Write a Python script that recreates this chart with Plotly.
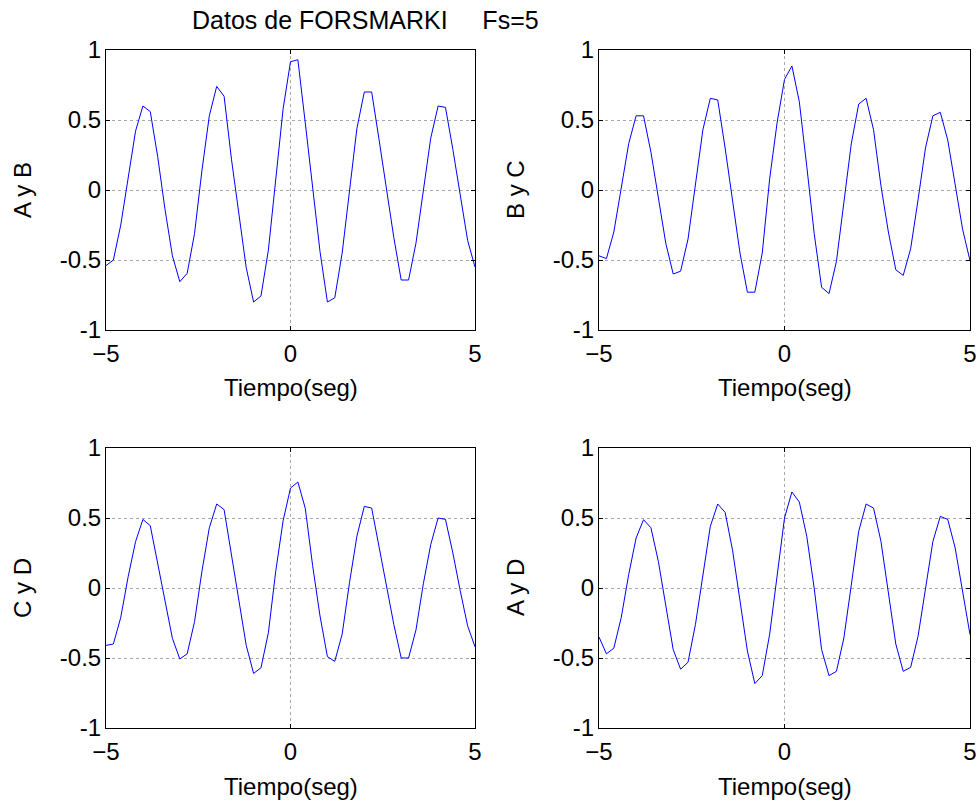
import numpy as np
import plotly.graph_objects as go

# ---- data ----
Fs = 5
tiempo = np.round(np.arange(-25, 26) / Fs, 1)  # sample times (s)

a_y_b = [-0.54, -0.50, -0.25, 0.07, 0.42, 0.60, 0.56, 0.24, -0.14, -0.47,
         -0.655, -0.595, -0.31, 0.14, 0.53, 0.74, 0.67, 0.22, -0.18, -0.555,
         -0.80, -0.757, -0.43, 0.10, 0.58, 0.917, 0.93, 0.48, 0.02, -0.44,
         -0.80, -0.77, -0.45, -0.02, 0.44, 0.70, 0.70, 0.36, 0.0, -0.34,
         -0.643, -0.643, -0.38, 0.0, 0.37, 0.60, 0.59, 0.29, -0.03, -0.36,
         -0.55]
b_y_c = [-0.47, -0.49, -0.30, 0.0, 0.33, 0.53, 0.53, 0.27, -0.06, -0.38,
         -0.60, -0.58, -0.35, 0.06, 0.43, 0.655, 0.643, 0.30, -0.07, -0.45,
         -0.73, -0.73, -0.45, 0.08, 0.48, 0.79, 0.886, 0.63, 0.17, -0.31,
         -0.695, -0.74, -0.51, -0.10, 0.33, 0.614, 0.655, 0.43, 0.03, -0.30,
         -0.57, -0.61, -0.42, -0.07, 0.30, 0.53, 0.555, 0.357, 0.03, -0.28,
         -0.505]
c_y_d = [-0.41, -0.40, -0.21, 0.08, 0.33, 0.49, 0.445, 0.18, -0.11, -0.36,
         -0.507, -0.47, -0.24, 0.12, 0.43, 0.60, 0.56, 0.23, -0.10, -0.41,
         -0.61, -0.57, -0.32, 0.12, 0.48, 0.714, 0.757, 0.57, 0.16, -0.20,
         -0.49, -0.524, -0.33, 0.04, 0.37, 0.583, 0.571, 0.29, 0.01, -0.26,
         -0.50, -0.50, -0.30, 0.03, 0.31, 0.50, 0.49, 0.25, -0.02, -0.27,
         -0.42]
a_y_d = [-0.35, -0.47, -0.43, -0.21, 0.095, 0.357, 0.488, 0.43, 0.19, -0.13,
         -0.44, -0.58, -0.53, -0.26, 0.107, 0.44, 0.60, 0.54, 0.27, -0.10,
         -0.45, -0.683, -0.626, -0.33, 0.095, 0.50, 0.686, 0.614, 0.37, 0.0,
         -0.44, -0.626, -0.595, -0.357, 0.02, 0.405, 0.60, 0.571, 0.333, -0.02,
         -0.40, -0.595, -0.567, -0.345, 0.012, 0.333, 0.512, 0.49, 0.286, -0.02,
         -0.333]

series = [a_y_b, b_y_c, c_y_d, a_y_d]
ylabels = ["A y B", "B y C", "C y D", "A y D"]
xlabel = "Tiempo(seg)"
title_text = "Datos de FORSMARKI" + "\u00a0" * 5 + "Fs=5"
xticks = [-5, 0, 5]
yticks = [-1, -0.5, 0, 0.5, 1]
yticktext = ["-1", "-0.5", "0", "0.5", "1"]

# ---- layout geometry (pixels) ----
W, H = 979, 803
boxes = [(106, 475, 50, 330), (599, 970, 50, 330),
         (106, 475, 448, 728), (599, 970, 448, 728)]
FONT = "Liberation Sans, Arial, Helvetica, sans-serif"
FS = 24

fig = go.Figure()
layout = dict(width=W, height=H, margin=dict(l=0, r=0, t=0, b=0, autoexpand=False),
              paper_bgcolor="white", plot_bgcolor="white", showlegend=False,
              font=dict(family=FONT, size=FS, color="black"))
annotations = []

for i, (ys, (x0, x1, y0, y1)) in enumerate(zip(series, boxes)):
    n = "" if i == 0 else str(i + 1)
    fig.add_trace(go.Scatter(x=tiempo, y=ys, mode="lines",
                             line=dict(color="#0000ff", width=1),
                             xaxis="x" + n, yaxis="y" + n, hoverinfo="skip"))
    common = dict(showline=True, linecolor="black", linewidth=1, mirror="ticks",
                  ticks="inside", ticklen=4, tickcolor="black", tickwidth=1,
                  showgrid=True, gridcolor="#a8a8a8", griddash="dot", gridwidth=1,
                  zeroline=False, automargin=False,
                  tickfont=dict(family=FONT, size=FS, color="black"))
    layout["xaxis" + n] = dict(domain=[x0 / W, x1 / W], range=[-5, 5],
                               tickvals=xticks, anchor="y" + n,
                               ticklabelstandoff=2, **common)
    layout["yaxis" + n] = dict(domain=[1 - y1 / H, 1 - y0 / H], range=[-1, 1],
                               tickvals=yticks, ticktext=yticktext, anchor="x" + n,
                               ticklabelstandoff=-1, **common)
    xc = (x0 + x1) / 2
    annotations.append(dict(text=xlabel, x=xc / W, y=1 - (y1 + 58) / H,
                            xref="paper", yref="paper", xanchor="center",
                            yanchor="middle", showarrow=False,
                            font=dict(family=FONT, size=FS, color="black")))
    annotations.append(dict(text=ylabels[i], x=(x0 - 84) / W, y=1 - ((y0 + y1) / 2) / H,
                            xref="paper", yref="paper", xanchor="center",
                            yanchor="middle", showarrow=False, textangle=-90,
                            font=dict(family=FONT, size=FS, color="black")))

annotations.append(dict(text=title_text, x=365 / W, y=1 - 20 / H,
                        xref="paper", yref="paper", xanchor="center",
                        yanchor="middle", showarrow=False,
                        font=dict(family=FONT, size=25, color="black")))
layout["annotations"] = annotations
fig.update_layout(**layout)
fig.write_html("out.html")
